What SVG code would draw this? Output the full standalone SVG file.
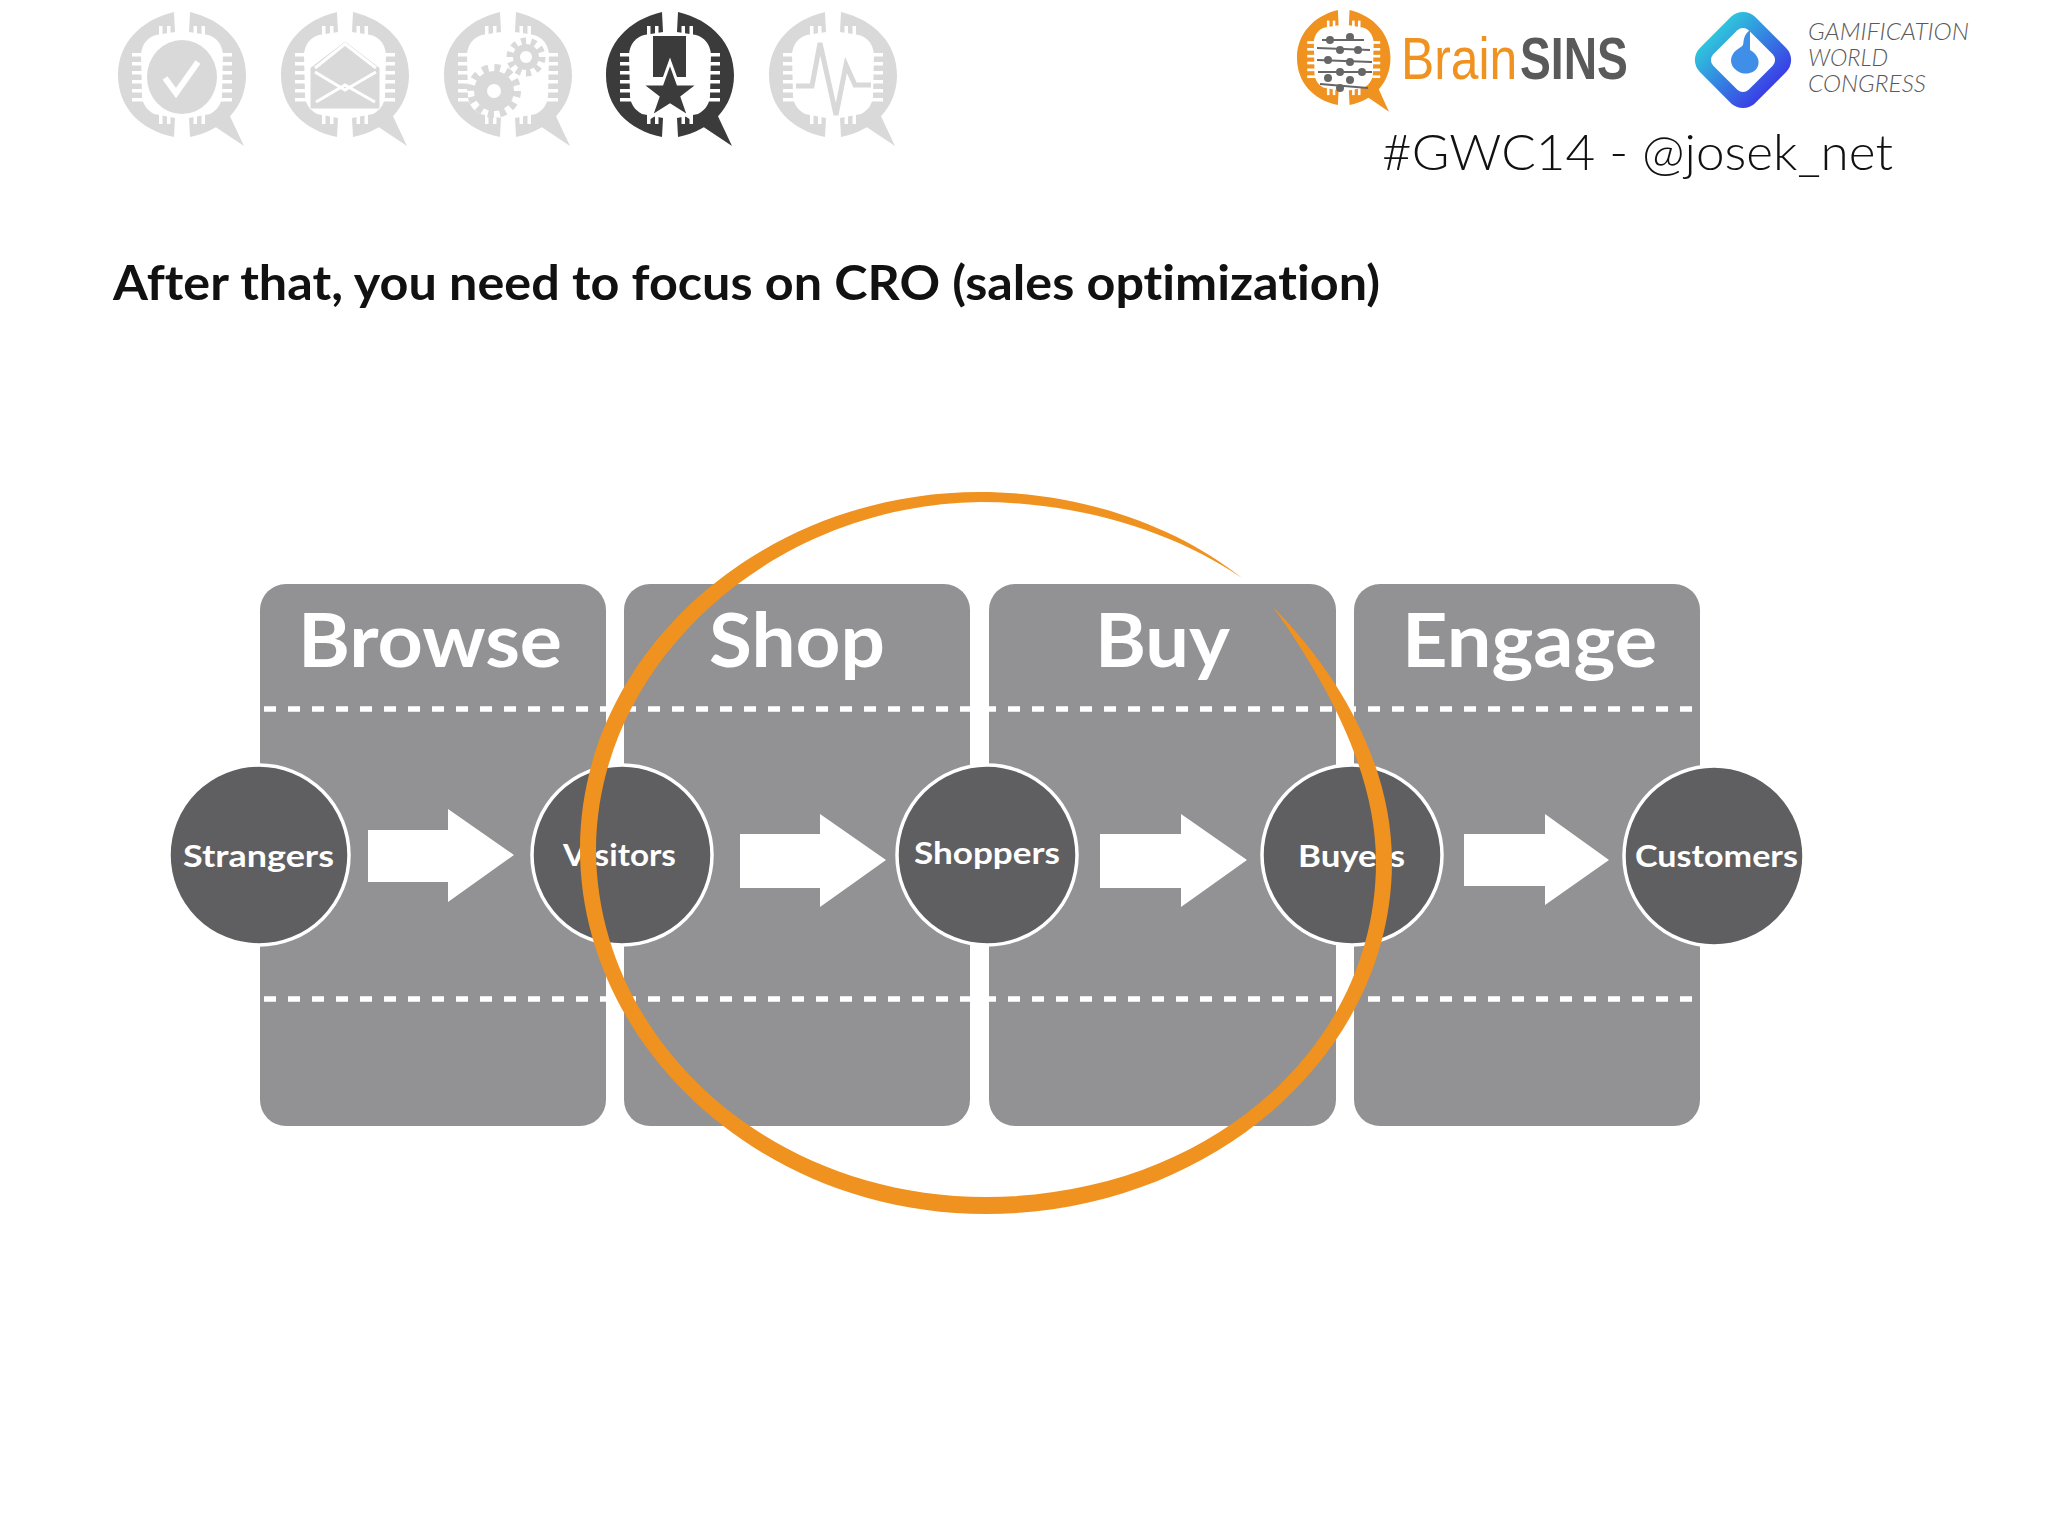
<svg xmlns="http://www.w3.org/2000/svg" xmlns:xlink="http://www.w3.org/1999/xlink" width="2048" height="1536" viewBox="0 0 2048 1536">
<style>
text{font-variant-ligatures:none}
.panel{fill:#929193}
.hd{font-family:"Lato","Liberation Sans",sans-serif;font-weight:700;font-size:74px;fill:#fff}
.node{fill:#5f5e60;stroke:#fff;stroke-width:3.5}
.lbl{font-family:"Lato","Liberation Sans",sans-serif;font-weight:700;font-size:31px;fill:#fff}
.dash{stroke:#fff;stroke-width:5.5;stroke-dasharray:12 12;fill:none}
.arrow{fill:#fff}
.gwc{font-family:"Lato","Liberation Sans",sans-serif;font-weight:300;font-style:italic;font-size:24px;fill:#5a5a5a}
.g{color:#d9d9d9;filter:url(#soft)}
.k{color:#3a3a3a;filter:url(#soft)}
</style>
<defs>
<filter id="soft" x="-5%" y="-5%" width="110%" height="110%"><feGaussianBlur stdDeviation="0.7"/></filter>
<linearGradient id="gw" x1="0" y1="1" x2="1" y2="1"><stop offset="0" stop-color="#2fc4dc"/><stop offset="1" stop-color="#3a3fe6"/></linearGradient>
<g id="half">
<path fill="currentColor" d="M56 0C22 8 0 32 0 63C0 95 22 118 56 125L57 106L36 102C28 98 24 90 24 84L23 42C24 32 30 25 38 23L57 20Z"/>
<g fill="#fff"><rect x="14" y="41" width="11" height="3.5"/><rect x="14" y="50" width="11" height="3.5"/><rect x="14" y="59" width="11" height="3.5"/><rect x="14" y="68" width="11" height="3.5"/><rect x="14" y="77" width="11" height="3.5"/><rect x="14" y="86" width="11" height="3.5"/><rect x="41" y="14" width="3.5" height="9"/><rect x="49" y="14" width="3.5" height="9"/><rect x="41" y="102" width="3.5" height="10"/><rect x="49" y="102" width="3.5" height="10"/></g>
</g>
<g id="badge">
<use xlink:href="#half" href="#half"/>
<use xlink:href="#half" href="#half" transform="translate(128 0) scale(-1 1)"/>
<path fill="currentColor" d="M110 100L126 134L96 114Z"/>
</g>
</defs>
<rect width="2048" height="1536" fill="#fff"/>

<g id="icon-check" class="g" transform="translate(118 12)"><use href="#badge"/><ellipse cx="64" cy="65" rx="35" ry="37" fill="#d9d9d9"/><path d="M47 66L58 81L80 50" fill="none" stroke="#fff" stroke-width="6"/></g>
<g id="icon-mail" class="g" transform="translate(281 12)"><use href="#badge"/><path d="M30 56L64 30L98 56L98 96L30 96Z" fill="#d9d9d9" stroke="#d9d9d9" stroke-width="1"/><path d="M34 56L64 32L95 56M34 60L64 78L95 60M35 90L64 73L94 90" fill="none" stroke="#fff" stroke-width="3"/></g>
<g id="icon-gears" class="g" transform="translate(444 12)"><use href="#badge"/><circle cx="50" cy="79" r="20" fill="#d9d9d9"/><circle cx="50" cy="79" r="23" fill="none" stroke="#d9d9d9" stroke-width="8" stroke-dasharray="6 6"/><circle cx="50" cy="79" r="7" fill="#fff"/><circle cx="82" cy="45" r="13" fill="#d9d9d9"/><circle cx="82" cy="45" r="16" fill="none" stroke="#d9d9d9" stroke-width="7" stroke-dasharray="5 5"/><circle cx="82" cy="45" r="6" fill="#fff"/></g>
<g id="icon-star" class="k" transform="translate(606 12)"><use href="#badge"/><rect x="47" y="24" width="33" height="41" fill="#3a3a3a"/><path d="M64 50L72 72L93 72L76 85L83 105L64 93L45 105L52 85L35 72L56 72Z" fill="#3a3a3a" stroke="#fff" stroke-width="3"/></g>
<g id="icon-pulse" class="g" transform="translate(769 12)"><use href="#badge"/><path d="M27 74L43 74L51 31L67 103L77 53L86 73L102 73" fill="none" stroke="#d9d9d9" stroke-width="5"/></g>

<g id="logo-brainsins">
<g color="#f0921f" transform="translate(1297 10) scale(.73 .76)"><use href="#badge"/></g>
<g stroke="#666" stroke-width="2" fill="none"><path d="M1317 48L1370 50M1317 60L1372 62M1318 72L1372 72M1320 84L1368 88M1322 40L1364 40"/></g>
<g fill="#666"><circle cx="1330" cy="40" r="4"/><circle cx="1350" cy="37" r="4"/><circle cx="1340" cy="50" r="4"/><circle cx="1358" cy="50" r="4"/><circle cx="1328" cy="60" r="4"/><circle cx="1350" cy="62" r="4"/><circle cx="1340" cy="72" r="4"/><circle cx="1362" cy="72" r="4"/><circle cx="1328" cy="78" r="4"/><circle cx="1350" cy="80" r="4"/><circle cx="1340" cy="88" r="4"/></g>
<text transform="translate(1401 79) scale(.83 1)" font-family="'Liberation Sans',sans-serif" font-size="60" fill="#f0921f">Brain</text>
<text transform="translate(1520 79) scale(.77 1)" font-family="'Liberation Sans',sans-serif" font-weight="700" font-size="60" fill="#5a5a5a">SINS</text>
</g>
<g id="logo-gwc">
<rect x="1704" y="21" width="78" height="78" rx="17" transform="rotate(45 1743 60)" fill="url(#gw)"/>
<rect x="1718" y="35" width="50" height="50" rx="8" transform="rotate(45 1743 60)" fill="#fff"/>
<path d="M1750 30L1750 50C1757 54 1760 60 1758 66C1755 74 1745 75 1739 72C1731 68 1729 60 1733 54C1736 49 1741 48 1743 45C1744 41 1743 35 1750 30Z" fill="#3f8fe8"/>
<text x="1808" y="40" class="gwc" textLength="161" lengthAdjust="spacingAndGlyphs">GAMIFICATION</text>
<text x="1808" y="66" class="gwc" textLength="80" lengthAdjust="spacingAndGlyphs">WORLD</text>
<text x="1808" y="92" class="gwc" textLength="118" lengthAdjust="spacingAndGlyphs">CONGRESS</text>
</g>
<text id="tag" x="1382" y="170" font-family="Lato,'Liberation Sans',sans-serif" font-weight="300" font-size="49" fill="#111" textLength="511" lengthAdjust="spacingAndGlyphs">#GWC14 - @josek_net</text>
<text id="title" x="113" y="300" font-family="Lato,'Liberation Sans',sans-serif" font-weight="700" font-size="47" fill="#111" textLength="1267" lengthAdjust="spacingAndGlyphs">After that, you need to focus on CRO (sales optimization)</text>

<g id="panel-browse"><rect class="panel" x="260" y="584" width="346" height="542" rx="26"/><text class="hd" x="298" y="667" textLength="264" lengthAdjust="spacingAndGlyphs">Browse</text></g>
<g id="panel-shop"><rect class="panel" x="624" y="584" width="346" height="542" rx="26"/><text class="hd" x="709" y="667" textLength="176" lengthAdjust="spacingAndGlyphs">Shop</text></g>
<g id="panel-buy"><rect class="panel" x="989" y="584" width="347" height="542" rx="26"/><text class="hd" x="1095" y="667" textLength="135" lengthAdjust="spacingAndGlyphs">Buy</text></g>
<g id="panel-engage"><rect class="panel" x="1354" y="584" width="346" height="542" rx="26"/><text class="hd" x="1402" y="667" textLength="255" lengthAdjust="spacingAndGlyphs">Engage</text></g>
<path class="dash" d="M264 709H1696M264 999H1696"/>

<g id="connectors">
<path class="arrow" d="M368 830H448V809L514 855L448 902V882H368Z"/>
<path class="arrow" d="M740 834H820V814L886 860L820 907V888H740Z"/>
<path class="arrow" d="M1100 834H1181V814L1247 860L1181 907V888H1100Z"/>
<path class="arrow" d="M1464 834H1545V814L1609 860L1545 905V886H1464Z"/>
</g>

<g id="node-strangers"><circle class="node" cx="259" cy="855" r="90"/><text class="lbl" x="183" y="867" textLength="151" lengthAdjust="spacingAndGlyphs">Strangers</text></g>
<g id="node-visitors"><circle class="node" cx="622" cy="855" r="90"/><text class="lbl" x="563" y="866" textLength="113" lengthAdjust="spacingAndGlyphs">Visitors</text></g>
<g id="node-shoppers"><circle class="node" cx="987" cy="855" r="90"/><text class="lbl" x="914" y="864" textLength="146" lengthAdjust="spacingAndGlyphs">Shoppers</text></g>
<g id="node-buyers"><circle class="node" cx="1352" cy="855" r="90"/><text class="lbl" x="1298" y="867" textLength="107" lengthAdjust="spacingAndGlyphs">Buyers</text></g>
<g id="node-customers"><circle class="node" cx="1714" cy="856" r="90"/><text class="lbl" x="1635" y="867" textLength="163" lengthAdjust="spacingAndGlyphs">Customers</text></g>

<path id="brush" fill="#f0921f" d="M1273 607C1345 680 1392 770 1392 862C1392 1055 1210 1214 986 1214C760 1214 580 1045 580 849C580 655 760 492 980 492C1080 492 1175 525 1242 578C1175 532 1080 502 980 502C770 505 597 664 596 849C596 1036 765 1197 986 1197C1205 1197 1376 1050 1376 862C1376 775 1330 687 1273 607Z"/>
</svg>
